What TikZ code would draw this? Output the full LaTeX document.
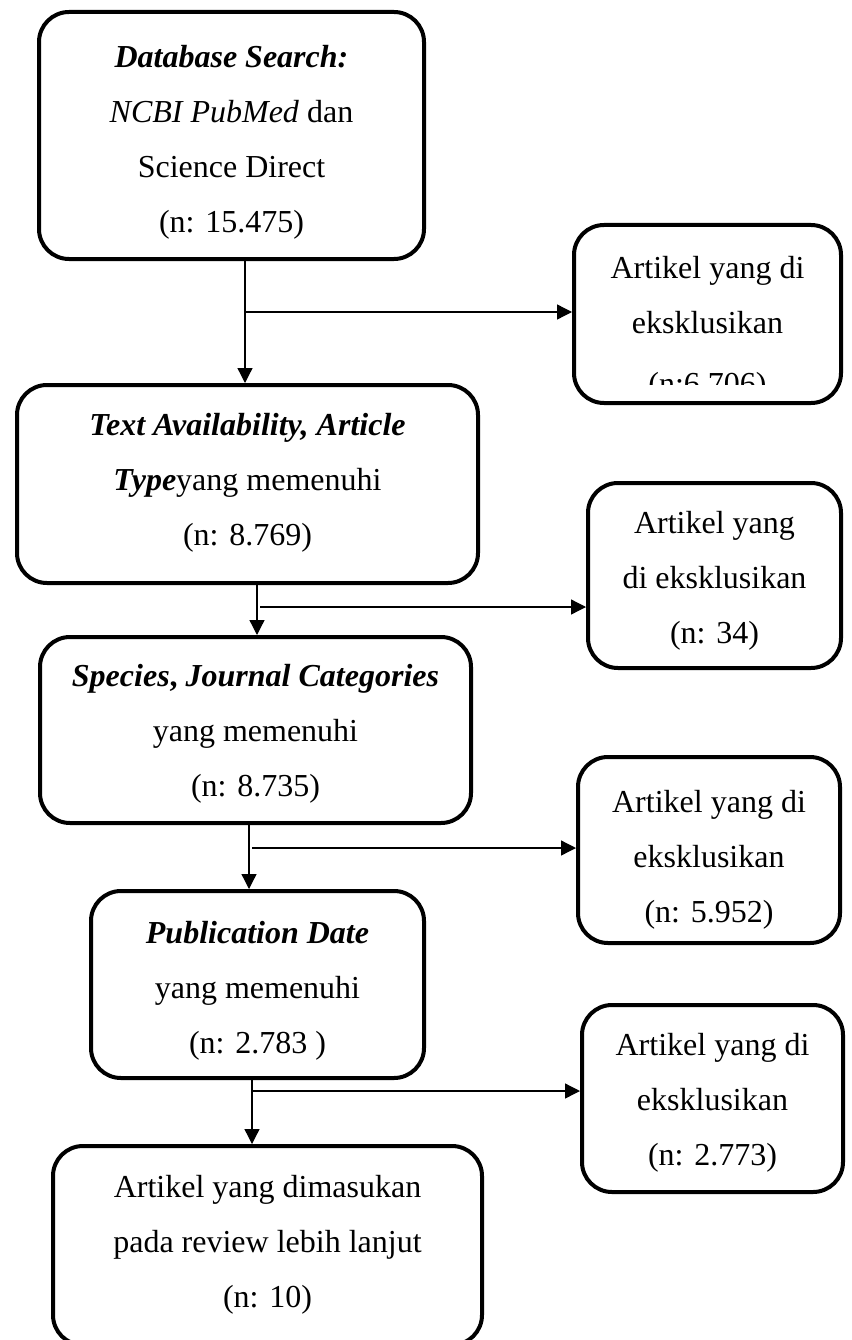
\documentclass[tikz,border=0pt]{standalone}
\usepackage{fontspec}
\setmainfont{Liberation Serif}
\usetikzlibrary{arrows.meta}
\begin{document}
\begin{tikzpicture}[x=1pt,y=-1pt,
  box/.style={draw, line width=4pt, rounded corners=30pt, inner sep=0pt},
  txt/.style={align=center, inner sep=0pt, font=\fontsize{32}{55}\selectfont},
  conn/.style={line width=1.3pt},
  arr/.style={conn, -{Triangle[length=15pt,width=15pt]}}]
\fill[white] (0,0) rectangle (851,1340);
\useasboundingbox (0,0) rectangle (851,1340);

% boxes
\node[box, minimum width=385pt, minimum height=247pt] (b1) at (231.5,135.5) {};
\node[box, minimum width=267pt, minimum height=178pt] (r1) at (707.5,314) {};
\node[box, minimum width=461pt, minimum height=198pt] (b2) at (247.5,484) {};
\node[box, minimum width=253pt, minimum height=185pt] (r2) at (714.5,575.5) {};
\node[box, minimum width=431pt, minimum height=186pt] (b3) at (255.5,730) {};
\node[box, minimum width=262pt, minimum height=186pt] (r3) at (709,850) {};
\node[box, minimum width=333pt, minimum height=187pt] (b4) at (257.5,984.5) {};
\node[box, minimum width=261pt, minimum height=187pt] (r4) at (712.5,1098.5) {};
\node[box, minimum width=429pt, minimum height=199pt] (b5) at (267.5,1245.5) {};

% texts
\node[txt] (b1t) at (231.5,139.5) {\textbf{\textit{Database Search:}}\strut\\ \textit{NCBI PubMed} dan\strut\\ Science Direct\strut\\ (n: 15.475)\strut};
\begin{scope}
\clip (560,200) rectangle (851,384);
\node[txt] (r1t) at (707.5,325) {Artikel yang di\strut\\ eksklusikan\strut\\[6pt] (n:6.706)\strut};
\end{scope}
\node[txt] (b2t) at (247.5,479) {\textbf{\textit{Text Availability, Article}}\strut\\ \textbf{\textit{Type}}yang memenuhi\strut\\ (n: 8.769)\strut};
\node[txt] (r2t) at (714.5,577.5) {Artikel yang\strut\\ di eksklusikan\strut\\ (n: 34)\strut};
\node[txt] (b3t) at (255.5,730) {\textbf{\textit{Species}}\textbf{,} \textbf{\textit{Journal Categories}}\strut\\ yang memenuhi\strut\\ (n: 8.735)\strut};
\node[txt] (r3t) at (709,856.5) {Artikel yang di\strut\\ eksklusikan\strut\\ (n: 5.952)\strut};
\node[txt] (b4t) at (257.5,987) {\textbf{\textit{Publication Date}}\strut\\ yang memenuhi\strut\\ (n: 2.783 )\strut};
\node[txt] (r4t) at (712.5,1099) {Artikel yang di\strut\\ eksklusikan\strut\\ (n: 2.773)\strut};
\node[txt] (b5t) at (267.5,1241) {Artikel yang dimasukan\strut\\ pada review lebih lanjut\strut\\ (n: 10)\strut};

% connectors
\coordinate (a1) at (245,312);
\coordinate (j1) at (245,312);
\draw[arr] (b1.south -| a1) -- (b2.north -| a1);
\draw[arr] (j1) -- (r1.west |- j1);

\coordinate (a2) at (257,607);
\coordinate (j2) at (260,607);
\draw[arr] (b2.south -| a2) -- (b3.north -| a2);
\draw[arr] (j2) -- (r2.west |- j2);

\coordinate (a3) at (249,848);
\coordinate (j3) at (252,848);
\draw[arr] (b3.south -| a3) -- (b4.north -| a3);
\draw[arr] (j3) -- (r3.west |- j3);

\coordinate (a4) at (252,1091);
\coordinate (j4) at (252,1091);
\draw[arr] (b4.south -| a4) -- (b5.north -| a4);
\draw[arr] (j4) -- (r4.west |- j4);
\end{tikzpicture}
\end{document}
